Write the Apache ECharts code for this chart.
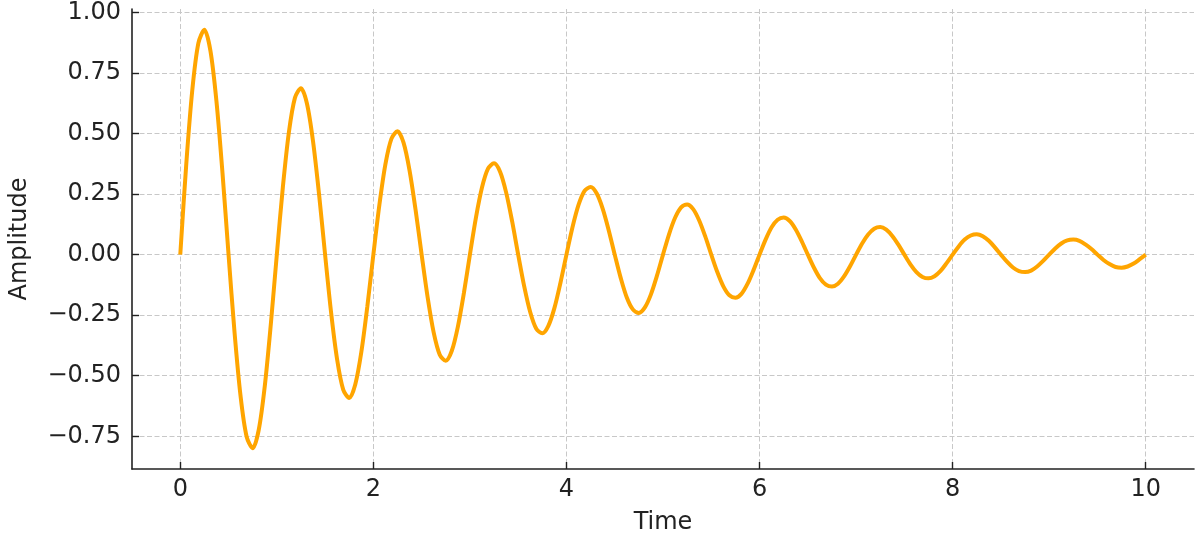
<!DOCTYPE html>
<html>
<head>
<meta charset="utf-8">
<script src="https://cdn.jsdelivr.net/npm/echarts@6/dist/echarts.min.js"></script>
<style>
html,body{margin:0;padding:0;background:#fff;}
#chart{width:1200px;height:540px;}
</style>
</head>
<body>
<div id="chart"></div>
<script>
// Sample times (s), 16 per period
const times = [
  0, 0.0625, 0.125, 0.1875, 0.25, 0.3125, 0.375, 0.4375, 0.5, 0.5625, 0.625, 0.6875, 0.75, 0.8125, 0.875, 0.9375,
  1, 1.0625, 1.125, 1.1875, 1.25, 1.3125, 1.375, 1.4375, 1.5, 1.5625, 1.625, 1.6875, 1.75, 1.8125, 1.875, 1.9375,
  2, 2.0625, 2.125, 2.1875, 2.25, 2.3125, 2.375, 2.4375, 2.5, 2.5625, 2.625, 2.6875, 2.75, 2.8125, 2.875, 2.9375,
  3, 3.0625, 3.125, 3.1875, 3.25, 3.3125, 3.375, 3.4375, 3.5, 3.5625, 3.625, 3.6875, 3.75, 3.8125, 3.875, 3.9375,
  4, 4.0625, 4.125, 4.1875, 4.25, 4.3125, 4.375, 4.4375, 4.5, 4.5625, 4.625, 4.6875, 4.75, 4.8125, 4.875, 4.9375,
  5, 5.0625, 5.125, 5.1875, 5.25, 5.3125, 5.375, 5.4375, 5.5, 5.5625, 5.625, 5.6875, 5.75, 5.8125, 5.875, 5.9375,
  6, 6.0625, 6.125, 6.1875, 6.25, 6.3125, 6.375, 6.4375, 6.5, 6.5625, 6.625, 6.6875, 6.75, 6.8125, 6.875, 6.9375,
  7, 7.0625, 7.125, 7.1875, 7.25, 7.3125, 7.375, 7.4375, 7.5, 7.5625, 7.625, 7.6875, 7.75, 7.8125, 7.875, 7.9375,
  8, 8.0625, 8.125, 8.1875, 8.25, 8.3125, 8.375, 8.4375, 8.5, 8.5625, 8.625, 8.6875, 8.75, 8.8125, 8.875, 8.9375,
  9, 9.0625, 9.125, 9.1875, 9.25, 9.3125, 9.375, 9.4375, 9.5, 9.5625, 9.625, 9.6875, 9.75, 9.8125, 9.875, 9.9375,
  10
];
// Amplitude values
const amplitude = [
  0, 0.376, 0.681, 0.873, 0.928, 0.841, 0.632, 0.336, 0, -0.323, -0.586, -0.752, -0.799, -0.724, -0.544, -0.289,
  0, 0.278, 0.505, 0.647, 0.687, 0.623, 0.468, 0.249, 0, -0.240, -0.434, -0.557, -0.592, -0.536, -0.403, -0.214,
  0, 0.206, 0.374, 0.479, 0.509, 0.462, 0.347, 0.184, 0, -0.177, -0.322, -0.413, -0.438, -0.397, -0.298, -0.159,
  0, 0.153, 0.277, 0.355, 0.377, 0.342, 0.257, 0.137, 0, -0.131, -0.238, -0.306, -0.325, -0.294, -0.221, -0.117,
  0, 0.113, 0.205, 0.263, 0.279, 0.253, 0.190, 0.101, 0, -0.097, -0.177, -0.226, -0.241, -0.218, -0.164, -0.087,
  0, 0.084, 0.152, 0.195, 0.207, 0.188, 0.141, 0.075, 0, -0.072, -0.131, -0.168, -0.178, -0.162, -0.121, -0.064,
  0, 0.062, 0.113, 0.144, 0.153, 0.139, 0.104, 0.055, 0, -0.053, -0.097, -0.124, -0.132, -0.120, -0.090, -0.048,
  0, 0.046, 0.083, 0.107, 0.114, 0.103, 0.077, 0.041, 0, -0.040, -0.072, -0.092, -0.098, -0.089, -0.067, -0.035,
  0, 0.034, 0.062, 0.079, 0.084, 0.076, 0.057, 0.030, 0, -0.029, -0.053, -0.068, -0.072, -0.066, -0.049, -0.026,
  0, 0.025, 0.046, 0.059, 0.062, 0.057, 0.042, 0.023, 0, -0.022, -0.039, -0.051, -0.054, -0.049, -0.037, -0.019,
  0
];
const xTicks = [0, 2, 4, 6, 8, 10];
const yTicks = [-0.75, -0.5, -0.25, 0, 0.25, 0.5, 0.75, 1.0];
const xLabel = 'Time';
const yLabel = 'Amplitude';

const chart = echarts.init(document.getElementById('chart'), null, {renderer: 'canvas'});
const font = 'DejaVu Sans';
const gridLine = {show: true, lineStyle: {color: '#c8c8c8', width: 1, type: [5, 2.5]}};
const axisLineStyle = {show: true, onZero: false, lineStyle: {color: '#222', width: 1.6}};

chart.setOption({
  animation: false,
  backgroundColor: '#ffffff',
  grid: {left: 130, right: 6, top: 9, bottom: 70, containLabel: false},
  xAxis: {
    type: 'value',
    min: -0.5, max: 10.5,
    name: xLabel,
    nameLocation: 'middle',
    nameGap: 42,
    nameTextStyle: {fontFamily: font, fontSize: 24, color: '#222'},
    axisLine: axisLineStyle,
    axisTick: {show: true, inside: true, length: 7, lineStyle: {color: '#222', width: 1.4}, customValues: xTicks},
    axisLabel: {show: true, customValues: xTicks, margin: 9, fontFamily: font, fontSize: 24, color: '#222',
      formatter: v => String(v)},
    splitLine: gridLine
  },
  yAxis: {
    type: 'value',
    min: -0.885, max: 1.014,
    name: yLabel,
    nameLocation: 'middle',
    nameGap: 100,
    nameRotate: 90,
    nameTextStyle: {fontFamily: font, fontSize: 24, color: '#222'},
    axisLine: axisLineStyle,
    axisTick: {show: true, inside: true, length: 7, lineStyle: {color: '#222', width: 1.4}, customValues: yTicks},
    axisLabel: {show: true, customValues: yTicks, margin: 11, fontFamily: font, fontSize: 24, color: '#222',
      formatter: v => v.toFixed(2).replace('-', '\u2212')},
    splitLine: gridLine
  },
  series: [{
    type: 'line',
    data: times.map((t, i) => [t, amplitude[i]]),
    smooth: 0.3,
    showSymbol: false,
    lineStyle: {color: '#ffa500', width: 4},
    clip: true
  }]
});
</script>
</body>
</html>
